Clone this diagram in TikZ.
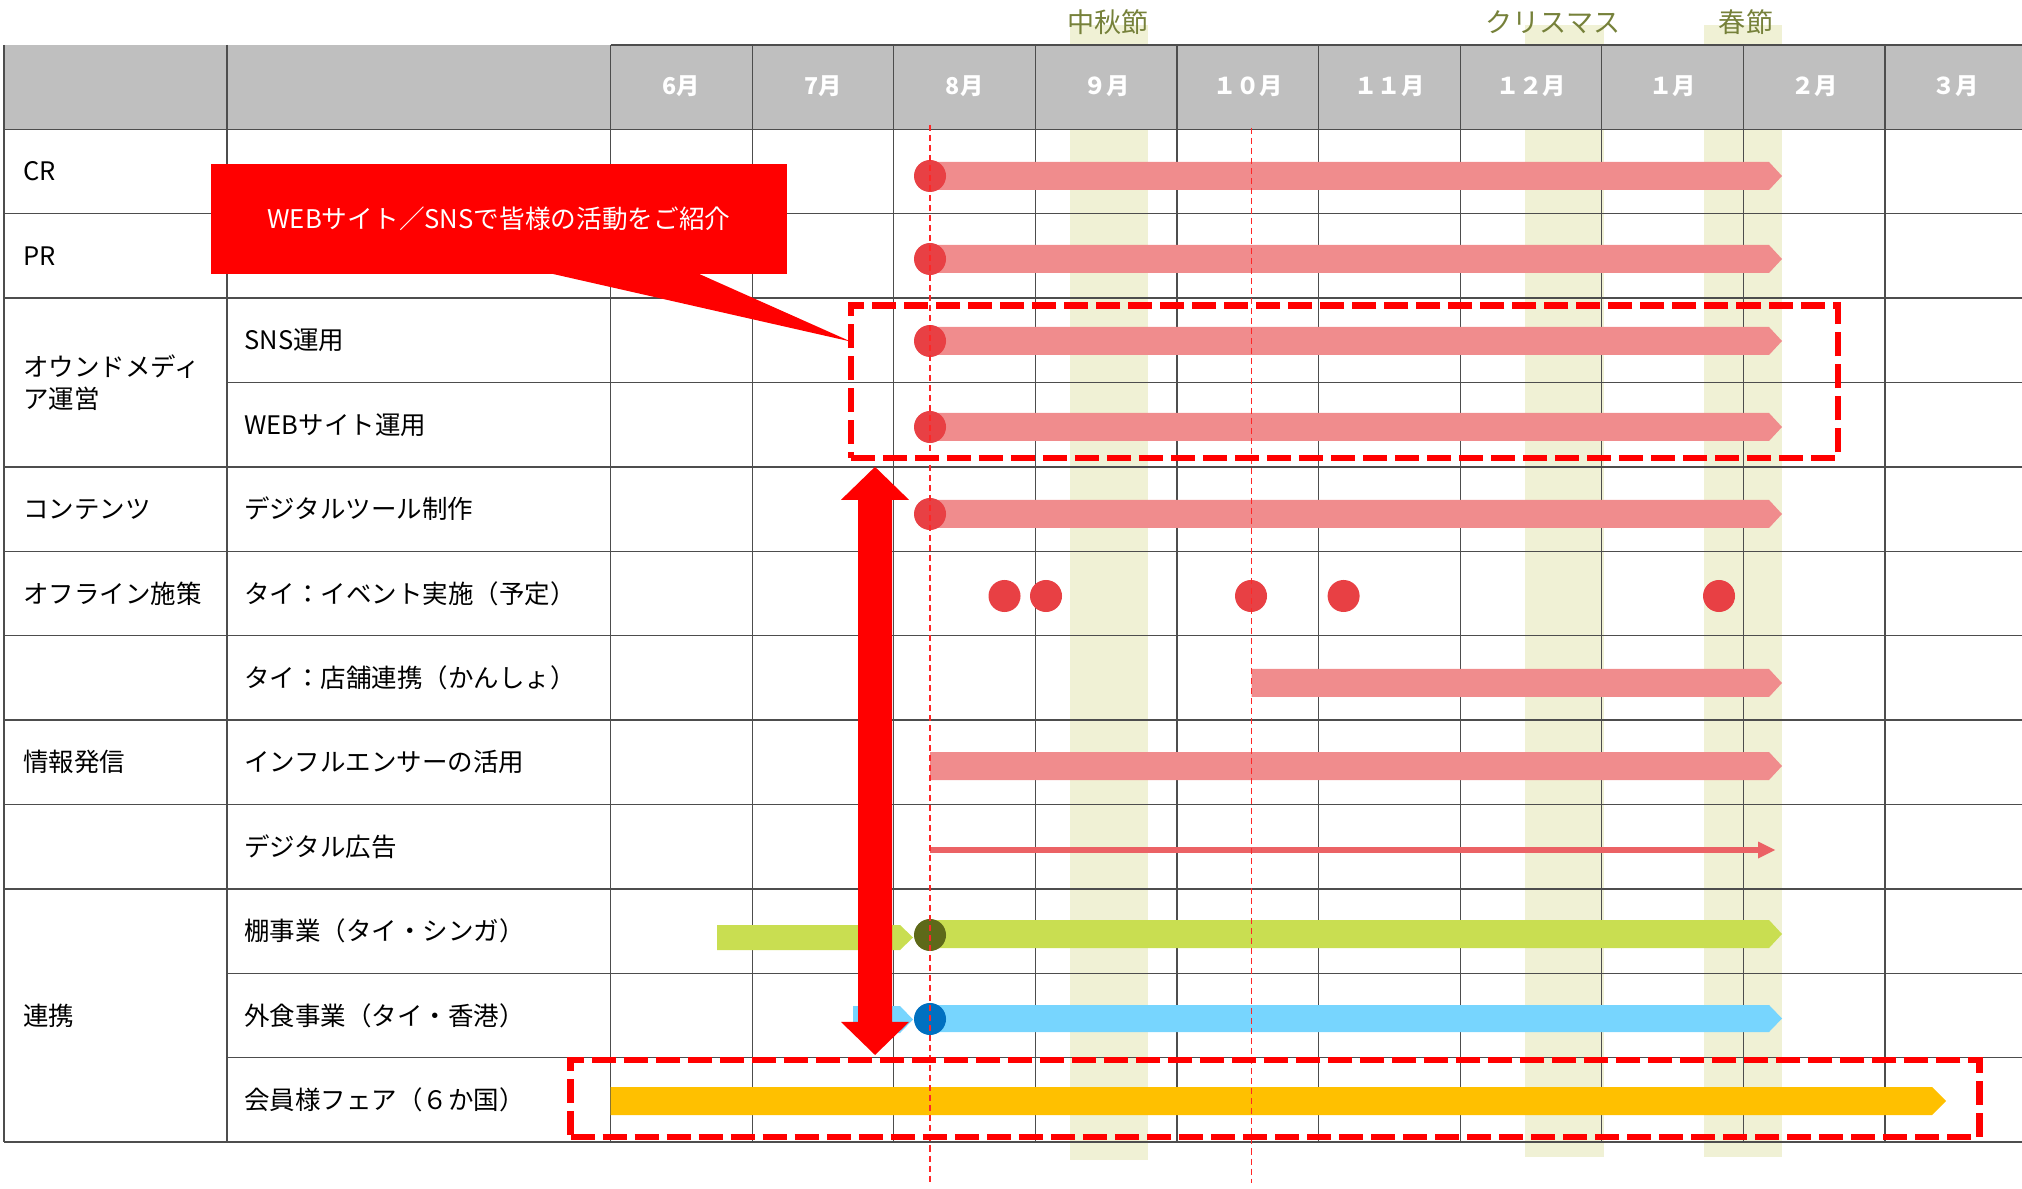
\documentclass[tikz,border=0pt]{standalone}
\usepackage{fontspec}
\setmainfont{Noto Sans CJK JP}
\usetikzlibrary{calc}

\definecolor{hdrgray}{HTML}{BFBFBF}
\definecolor{bandcol}{HTML}{F0F1D5}
\definecolor{festcol}{HTML}{76813A}
\definecolor{pinkbar}{HTML}{F08C8D}
\definecolor{dotred}{HTML}{E84044}
\definecolor{adred}{HTML}{EB6265}
\definecolor{limebar}{HTML}{C9DE51}
\definecolor{olivedot}{HTML}{5E6919}
\definecolor{skybar}{HTML}{77D5FE}
\definecolor{bluedot}{HTML}{0070C0}
\definecolor{goldbar}{HTML}{FFC000}
\definecolor{gridcol}{HTML}{4D4D4D}
\definecolor{alertred}{HTML}{FF0000}

\begin{document}
\begin{tikzpicture}[x=0.01cm,y=-0.01cm,
    cell/.style={anchor=west,inner sep=0pt,font=\fontsize{7.25pt}{9.1pt}\selectfont},
    month/.style={inner sep=0pt,text=white,font=\fontsize{6.6pt}{8pt}\selectfont\bfseries},
    fest/.style={inner sep=0pt,text=festcol,font=\fontsize{7.7pt}{9pt}\selectfont},
    gridline/.style={gridcol,line width=0.35pt},
    guide/.style={alertred!85,line width=0.45pt,dash pattern=on 0.06cm off 0.04cm},
    dashbox/.style={draw=alertred,line width=0.065cm,dash pattern=on 0.24cm off 0.08cm,
        inner sep=0pt,outer sep=0pt},
    notebox/.style={fill=alertred,text=white,inner sep=0pt,outer sep=0pt,
        minimum width=5.75cm,minimum height=1.10cm,font=\fontsize{7.3pt}{9pt}\selectfont}]

    \useasboundingbox (0,0) rectangle (2022,1189);

    % festival bands
    \fill[bandcol] (1070,25) rectangle (1148,1160);
    \fill[bandcol] (1525,25) rectangle (1604,1157);
    \fill[bandcol] (1704,25) rectangle (1782,1157);
    \node[fest] (fmid) at (1108,22) {中秋節};
    \node[fest] (fxmas) at (1553,22) {クリスマス};
    \node[fest] (fspring) at (1746,22) {春節};

    % header
    \fill[hdrgray] (4,45) rectangle (2022,129.3);
    \draw[gridline] (610.6,45) -- (2022,45);

    % rows
    \draw[gridline] (4,129.3) -- (2022,129.3);
    \draw[gridline] (4,213.7) -- (2022,213.7);
    \draw[gridline] (4,298.1) -- (2022,298.1);
    \draw[gridline] (227,382.5) -- (2022,382.5);
    \draw[gridline] (4,466.9) -- (2022,466.9);
    \draw[gridline] (4,551.3) -- (2022,551.3);
    \draw[gridline] (4,635.7) -- (2022,635.7);
    \draw[gridline] (4,720.1) -- (2022,720.1);
    \draw[gridline] (4,804.5) -- (2022,804.5);
    \draw[gridline] (4,888.9) -- (2022,888.9);
    \draw[gridline] (227,973.3) -- (2022,973.3);
    \draw[gridline] (227,1057.7) -- (2022,1057.7);
    \draw[gridline] (4,1142.1) -- (2022,1142.1);

    % columns
    \draw[gridline] (4,45) -- (4,1142.1);
    \draw[gridline] (227,45) -- (227,1142.1);
    \draw[gridline] (610.6,45) -- (610.6,1142.1);
    \draw[gridline] (752.2,45) -- (752.2,1142.1);
    \draw[gridline] (893.8,45) -- (893.8,1142.1);
    \draw[gridline] (1035.4,45) -- (1035.4,1142.1);
    \draw[gridline] (1177,45) -- (1177,1142.1);
    \draw[gridline] (1318.6,45) -- (1318.6,1142.1);
    \draw[gridline] (1460.2,45) -- (1460.2,1142.1);
    \draw[gridline] (1601.8,45) -- (1601.8,1142.1);
    \draw[gridline] (1743.4,45) -- (1743.4,1142.1);
    \draw[gridline] (1885,45) -- (1885,1142.1);

    % months
    \node[month] (m6) at (681.4,86) {6月};
    \node[month] (m7) at (823,86) {7月};
    \node[month] (m8) at (964.6,86) {8月};
    \node[month] (m9) at (1106.2,86) {９月};
    \node[month] (m10) at (1247.8,86) {１０月};
    \node[month] (m11) at (1389.4,86) {１１月};
    \node[month] (m12) at (1531,86) {１２月};
    \node[month] (m1) at (1672.6,86) {１月};
    \node[month] (m2) at (1814.2,86) {２月};
    \node[month] (m3) at (1955.8,86) {３月};

    % row labels
    \node[cell] (cr) at (22.6,171.5) {CR};
    \node[cell] (pr) at (22.6,255.9) {PR};
    \node[cell,align=left] (owned) at (22.6,382.5) {オウンドメディ\\ア運営};
    \node[cell] (sns) at (243.7,340.3) {SNS運用};
    \node[cell] (web) at (243.7,424.7) {WEBサイト運用};
    \node[cell] (contents) at (22.6,509.1) {コンテンツ};
    \node[cell] (tool) at (243.7,509.1) {デジタルツール制作};
    \node[cell] (offline) at (22.6,593.5) {オフライン施策};
    \node[cell] (event) at (243.7,593.5) {タイ：イベント実施（予定）};
    \node[cell] (store) at (243.7,677.9) {タイ：店舗連携（かんしょ）};
    \node[cell] (info) at (22.6,762.3) {情報発信};
    \node[cell] (influ) at (243.7,762.3) {インフルエンサーの活用};
    \node[cell] (digad) at (243.7,846.7) {デジタル広告};
    \node[cell] (collab) at (22.6,1015.5) {連携};
    \node[cell] (shelf) at (243.7,931.1) {棚事業（タイ・シンガ）};
    \node[cell] (food) at (243.7,1015.5) {外食事業（タイ・香港）};
    \node[cell] (fair) at (243.7,1099.9) {会員様フェア（６か国）};

    % bars
    \fill[pinkbar] (930,162) -- (1769,162) -- (1782,176) -- (1769,190) -- (930,190) -- cycle;
    \fill[pinkbar] (930,245) -- (1769,245) -- (1782,259) -- (1769,273) -- (930,273) -- cycle;
    \fill[pinkbar] (930,327) -- (1769,327) -- (1782,341) -- (1769,355) -- (930,355) -- cycle;
    \fill[pinkbar] (930,413) -- (1769,413) -- (1782,427) -- (1769,441) -- (930,441) -- cycle;
    \fill[pinkbar] (930,500) -- (1769,500) -- (1782,514) -- (1769,528) -- (930,528) -- cycle;
    \fill[pinkbar] (1251.5,669) -- (1769,669) -- (1782,683) -- (1769,697) -- (1251.5,697) -- cycle;
    \fill[pinkbar] (930,752) -- (1769,752) -- (1782,766) -- (1769,780) -- (930,780) -- cycle;
    \fill[adred] (930,847) rectangle (1760,853);
    \fill[adred] (1758,841.5) -- (1775,850) -- (1758,858.5) -- cycle;
    \fill[limebar] (717,925) -- (900,925) -- (913,937.5) -- (900,950) -- (717,950) -- cycle;
    \fill[limebar] (930,920) -- (1769,920) -- (1782,934) -- (1769,948) -- (930,948) -- cycle;
    \fill[skybar] (853,1006) -- (900,1006) -- (913,1019.5) -- (900,1033) -- (853,1033) -- cycle;
    \fill[skybar] (930,1005) -- (1769,1005) -- (1782,1018.5) -- (1769,1032) -- (930,1032) -- cycle;
    \fill[goldbar] (610.6,1087) -- (1932,1087) -- (1946,1101) -- (1932,1115) -- (610.6,1115) -- cycle;

    % milestones
    \fill[dotred] (930,176) circle[radius=0.16cm];
    \fill[dotred] (930,259) circle[radius=0.16cm];
    \fill[dotred] (930,341) circle[radius=0.16cm];
    \fill[dotred] (930,427) circle[radius=0.16cm];
    \fill[dotred] (930,514) circle[radius=0.16cm];
    \fill[dotred] (1004.5,596) circle[radius=0.16cm];
    \fill[dotred] (1046,596) circle[radius=0.16cm];
    \fill[dotred] (1251,596) circle[radius=0.16cm];
    \fill[dotred] (1343.6,596) circle[radius=0.16cm];
    \fill[dotred] (1719,596) circle[radius=0.16cm];
    \fill[olivedot] (930,935) circle[radius=0.16cm];
    \fill[bluedot] (930,1019) circle[radius=0.16cm];

    % today / october guides
    \draw[guide] (930,125) -- (930,1185);
    \draw[guide] (1251.5,128) -- (1251.5,1183);

    % highlight boxes
    \node[dashbox,minimum width=9.865cm,minimum height=1.522cm] (box1) at (1344.3,381.7) {};
    \node[dashbox,minimum width=14.08cm,minimum height=0.77cm] (box2) at (1275,1098.5) {};

    % callout
    \node[notebox] (note) at (499,218.6) {WEBサイト／SNSで皆様の活動をご紹介};
    \fill[alertred] ([xshift=0.48cm,yshift=0.01cm]note.south)
        -- ([xshift=1.97cm,yshift=0.01cm]note.south)
        -- ($(box1.north west)+(0,36)$) -- cycle;

    % big double arrow
    \coordinate (ax) at (875,0);
    \coordinate (atop) at ($(box1.south -| ax)+(0,9)$);
    \coordinate (abot) at ($(box2.north -| ax)+(0,-5)$);
    \fill[alertred] (atop) -- ($(atop)+(34,33)$) -- ($(atop)+(17,33)$)
        -- ($(abot)+(17,-33)$) -- ($(abot)+(34,-33)$) -- (abot)
        -- ($(abot)+(-34,-33)$) -- ($(abot)+(-17,-33)$)
        -- ($(atop)+(-17,33)$) -- ($(atop)+(-34,33)$) -- cycle;

\end{tikzpicture}
\end{document}
